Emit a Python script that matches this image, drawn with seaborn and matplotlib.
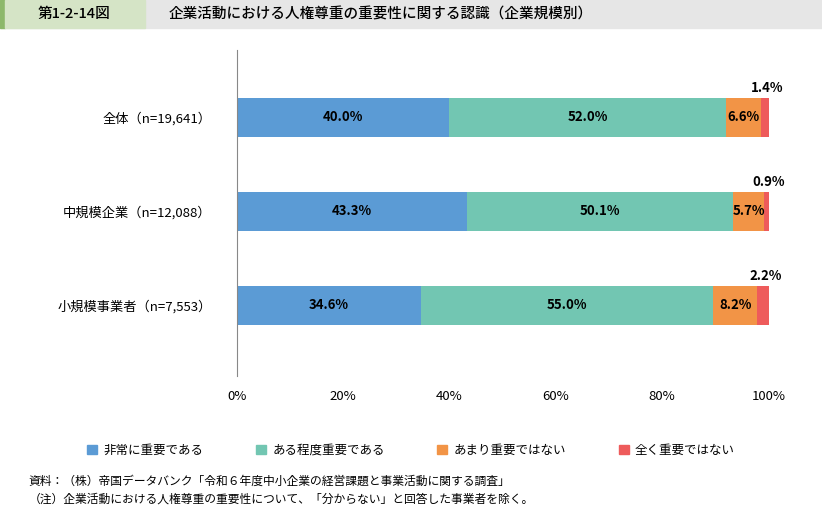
import matplotlib
matplotlib.use("Agg")
import matplotlib.pyplot as plt
import seaborn as sns
import pandas as pd
from matplotlib.patches import Rectangle, Patch

plt.rcParams["font.family"] = "Noto Sans CJK JP"

categories = ["全体（n=19,641）", "中規模企業（n=12,088）", "小規模事業者（n=7,553）"]
series_names = ["非常に重要である", "ある程度重要である", "あまり重要ではない", "全く重要ではない"]
very_important = [40.0, 43.3, 34.6]
somewhat_important = [52.0, 50.1, 55.0]
not_very_important = [6.6, 5.7, 8.2]
not_at_all = [1.4, 0.9, 2.2]
colors = ["#5B9BD5", "#72C6B2", "#F29446", "#EE5B5B"]

series = [very_important, somewhat_important, not_very_important, not_at_all]
df = pd.DataFrame({"cat": categories})
cum = [0.0] * 3
for name, vals in zip(series_names, series):
    cum = [c + v for c, v in zip(cum, vals)]
    df[name] = cum

fig = plt.figure(figsize=(8.22, 5.09), dpi=100)
# title band
fig.patches.append(Rectangle((0, 0.945), 1, 0.055, transform=fig.transFigure, color="#E6E6E6", zorder=0))
fig.patches.append(Rectangle((0, 0.945), 0.006, 0.055, transform=fig.transFigure, color="#8DB86B", zorder=1))
fig.patches.append(Rectangle((0.006, 0.945), 0.17, 0.055, transform=fig.transFigure, color="#D5E4C6", zorder=1))
fig.text(0.09, 0.972, "第1-2-14図", ha="center", va="center", fontsize=10.5, fontweight="medium")
fig.text(0.205, 0.972, "企業活動における人権尊重の重要性に関する認識（企業規模別）", ha="left", va="center",
         fontsize=10.5, fontweight="medium")

ax = fig.add_axes([0.288, 0.262, 0.647, 0.64])
for name, col in reversed(list(zip(series_names, colors))):
    sns.barplot(data=df, x=name, y="cat", orient="h", color=col, width=0.42,
                saturation=1, ax=ax, label=name)

for i in range(3):
    left = 0
    for j, vals in enumerate(series):
        v = vals[i]
        if j < 3:
            ax.text(left + v / 2, i, f"{v:.1f}%", ha="center", va="center",
                    fontsize=9.5, fontweight="bold")
        else:
            ax.text(left + v / 2 + 0.5, i - 0.24, f"{v:.1f}%", ha="center", va="bottom",
                    fontsize=9.5, fontweight="bold")
        left += v

ax.set_xlim(0, 100)
ax.set_ylim(2.75, -0.72)
ax.set_xticks([0, 20, 40, 60, 80, 100])
ax.set_xticklabels([f"{t}%" for t in [0, 20, 40, 60, 80, 100]], fontsize=9.5)
ax.tick_params(axis="y", length=0, labelsize=9.5, pad=18)
ax.tick_params(axis="x", length=0, pad=10)
ax.set_xlabel("")
ax.set_ylabel("")
for s in ["top", "right", "bottom"]:
    ax.spines[s].set_visible(False)
ax.spines["left"].set_color("#888888")
if ax.get_legend():
    ax.get_legend().remove()

handles = [Patch(color=c) for c in colors]
fig.legend(handles, series_names, loc="center", bbox_to_anchor=(0.5, 0.115), ncol=4,
           frameon=False, fontsize=9, handlelength=0.8, handleheight=0.8,
           columnspacing=4.2, handletextpad=0.5)

fig.text(0.035, 0.048, "資料：（株）帝国データバンク「令和６年度中小企業の経営課題と事業活動に関する調査」", fontsize=8.5)
fig.text(0.035, 0.012, "（注）企業活動における人権尊重の重要性について、「分からない」と回答した事業者を除く。", fontsize=8.5)

fig.savefig("out.png", dpi=100)
